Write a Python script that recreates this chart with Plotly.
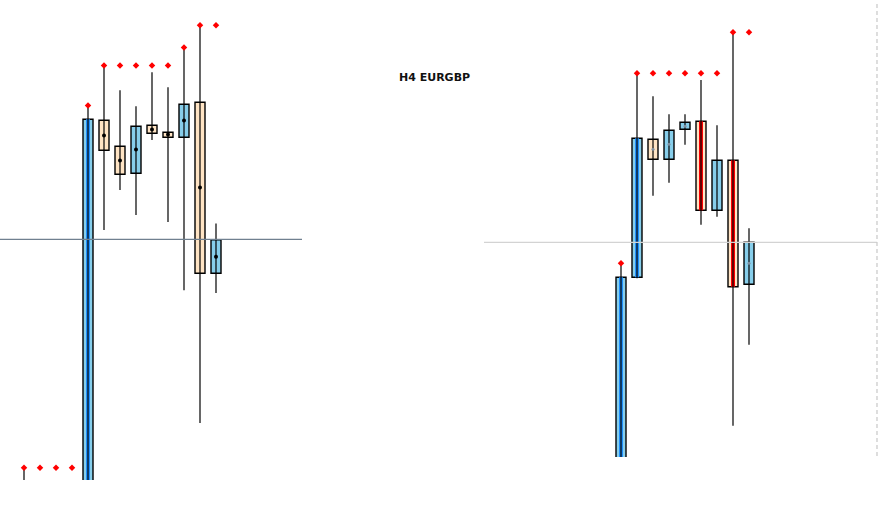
import plotly.graph_objects as go

# ---------------- data (units: pips relative to the reference level) ----------------
# Left panel
L_idx   = [0, 4, 5, 6, 7, 8, 9, 10, 11, 12]
L_open  = [-135, -135, 59.5, 46.5, 33.0, 57.0, 53.5, 51.0, 68.5, -0.2]
L_close = [-136, 60.0, 44.5, 32.5, 56.5, 53.0, 51.0, 67.5, -17.0, -17.0]
L_high  = [-114.5, 66.2, 86.7, 74.5, 66.5, 83.5, 76.0, 95.9, 107.0, 7.9]
L_low   = [-140, -140, 4.7, 24.7, 12.2, 49.7, 8.7, -25.5, -91.9, -26.9]
L_fill  = ["skyblue", "skyblue", "bisque", "bisque", "skyblue", "bisque", "bisque", "skyblue", "bisque", "skyblue"]
L_stripe_idx = [4]
L_stripe_col = ["dodgerblue"]
L_dot_idx = [5, 6, 7, 8, 9, 10, 11, 12]
L_dot_val = [51.9, 39.4, 44.9, 54.9, 52.4, 59.4, 25.9, -8.7]
L_mark_idx = [0, 1, 2, 3, 4, 5, 6, 7, 8, 9, 10, 11, 12]
L_mark_val = [-114.2, -114.2, -114.2, -114.2, 66.9, 86.9, 86.9, 86.9, 86.9, 86.9, 95.9, 107.0, 107.0]
L_level = 0

# Right panel
R_idx   = [0, 1, 2, 3, 4, 5, 6, 7, 8]
R_open  = [-130, -17.5, 51.5, 41.5, 56.5, 60.5, 16.0, 41.0, 0.0]
R_close = [-17.5, 52.0, 41.5, 56.0, 60.0, 16.0, 41.0, -22.2, -21.0]
R_high  = [-10.9, 83.7, 73.0, 64.0, 64.0, 81.2, 58.5, 105.0, 7.0]
R_low   = [-140, -18.0, 23.3, 29.8, 48.8, 8.8, 12.8, -91.7, -51.2]
R_fill  = ["skyblue", "skyblue", "bisque", "skyblue", "skyblue", "bisque", "skyblue", "bisque", "skyblue"]
R_stripe_idx = [0, 1, 5, 7]
R_stripe_col = ["dodgerblue", "dodgerblue", "red", "red"]
R_dot_idx = [2, 3, 4, 8]
R_dot_val = [46.5, 49.0, 58.0, -10.5]
R_mark_idx = [0, 1, 2, 3, 4, 5, 6, 7, 8]
R_mark_val = [-10.5, 84.5, 84.5, 84.5, 84.5, 84.5, 84.5, 105.0, 105.0]
R_level = 0

TITLE = "H4 EURGBP"

W, H = 891, 528
fig = go.Figure()


def add_panel(xa, ya, idx, o, c, hi, lo, fills, s_idx, s_col, d_idx, d_val, m_idx, m_val, dot_color, dot_size):
    wx, wy = [], []
    for i, h, l in zip(idx, hi, lo):
        wx += [i, i, None]
        wy += [h, l, None]
    fig.add_trace(go.Scatter(x=wx, y=wy, mode="lines", line=dict(color="black", width=1.2),
                             xaxis=xa, yaxis=ya, hoverinfo="skip", showlegend=False))
    base = [min(a, b) for a, b in zip(o, c)]
    hgt = [abs(a - b) for a, b in zip(o, c)]
    fig.add_trace(go.Bar(x=idx, y=hgt, base=base, width=0.625,
                         marker=dict(color=fills, line=dict(color="black", width=1.4)),
                         xaxis=xa, yaxis=ya, showlegend=False, hoverinfo="skip"))
    pos = {i: k for k, i in enumerate(idx)}
    sb = [base[pos[i]] for i in s_idx]
    sh = [hgt[pos[i]] for i in s_idx]
    fig.add_trace(go.Bar(x=s_idx, y=sh, base=sb, width=0.25,
                         marker=dict(color=s_col, line=dict(width=0)),
                         xaxis=xa, yaxis=ya, showlegend=False, hoverinfo="skip"))
    fig.add_trace(go.Scatter(x=d_idx, y=d_val, mode="markers",
                             marker=dict(color=dot_color, size=dot_size, symbol="circle"),
                             xaxis=xa, yaxis=ya, showlegend=False, hoverinfo="skip"))
    fig.add_trace(go.Scatter(x=m_idx, y=m_val, mode="markers",
                             marker=dict(color="red", size=5, symbol="diamond"),
                             xaxis=xa, yaxis=ya, showlegend=False, hoverinfo="skip", cliponaxis=False))


add_panel("x", "y", L_idx, L_open, L_close, L_high, L_low, L_fill,
          L_stripe_idx, L_stripe_col, L_dot_idx, L_dot_val, L_mark_idx, L_mark_val, "black", 4)
add_panel("x2", "y2", R_idx, R_open, R_close, R_high, R_low, R_fill,
          R_stripe_idx, R_stripe_col, R_dot_idx, R_dot_val, R_mark_idx, R_mark_val, "#8090a0", 3)


def px_x(p):
    return p / W


def px_y(p):
    return (H - p) / H


ax_common = dict(showgrid=False, zeroline=False, showticklabels=False, ticks="", showline=False, fixedrange=True)

fig.update_layout(
    width=W, height=H,
    margin=dict(l=0, r=0, t=0, b=0),
    paper_bgcolor="white", plot_bgcolor="white",
    barmode="overlay",
    showlegend=False,
    xaxis=dict(domain=[px_x(0), px_x(302)], range=[(0 - 24) / 16, (302 - 24) / 16], **ax_common),
    yaxis=dict(domain=[px_y(480), px_y(0)], range=[(239.3 - 480) / 2, 239.3 / 2], **ax_common),
    xaxis2=dict(domain=[px_x(484), px_x(877)], range=[(484 - 621) / 16, (877 - 621) / 16],
                anchor="y2", **ax_common),
    yaxis2=dict(domain=[px_y(457), px_y(0)], range=[(242.3 - 457) / 2, 242.3 / 2],
                anchor="x2", **ax_common),
    shapes=[
        dict(type="line", xref="x domain", yref="y", x0=0, x1=1, y0=L_level, y1=L_level,
             line=dict(color="#708090", width=1.3)),
        dict(type="line", xref="x2 domain", yref="y2", x0=0, x1=1, y0=R_level, y1=R_level,
             line=dict(color="#d3d3d3", width=1.3)),
        dict(type="line", xref="x2 domain", yref="paper", x0=1, x1=1, y0=px_y(456), y1=px_y(4),
             line=dict(color="#cccccc", width=1.3, dash="4px,3px")),
    ],
    annotations=[
        dict(text="<b>" + TITLE + "</b>", xref="paper", yref="paper", x=px_x(434), y=px_y(77),
             xanchor="center", yanchor="middle", showarrow=False,
             font=dict(family="DejaVu Sans", size=11, color="#111111")),
    ],
)

fig.write_html("out.html", config={"displayModeBar": False},
               post_script="document.body.style.margin='0px';document.body.style.overflow='hidden';")
